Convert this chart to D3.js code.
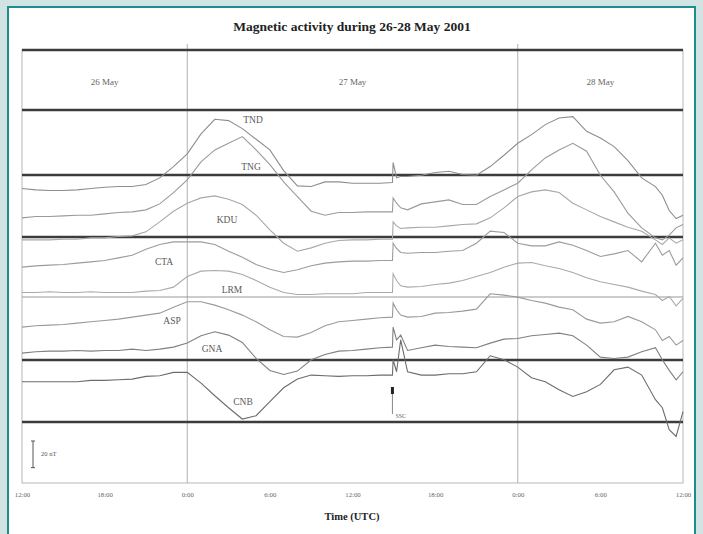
<!DOCTYPE html>
<html><head><meta charset="utf-8">
<script src="https://cdn.jsdelivr.net/npm/d3@7"></script>
<style>html,body{margin:0;padding:0;background:#d2e3e3;}svg{display:block}</style>
</head><body>
<svg id="c" width="703" height="534"></svg>
<script>
// ---------- DATA ----------
// hours since 26 May 12:00 UT
const hours = [0,1,2,3,4,5,6,7,8,9,10,11,12,13,14,15,16,17,18,19,20,21,22,23,24,25,26,26.9,26.95,27.2,27.5,28,29,30,31,32,33,34,35,36,37,38,39,40,41,42,43,44,45,46,46.5,47,47.5,48];
const stations = ["TND","TNG","KDU","CTA","LRM","ASP","GNA","CNB"];
// stacking offsets (nT)
const baselines = [221,199,184,162,143,117,97.5,76];
// H deviations (nT)
const TND = [0,-1,-1.5,-1.5,-1,0,1,1.5,1.5,3, 8,16.5,26,41,52,51,45,37,29,13.5, 2,1.5,5,5,4,4,4, 4.5,19.5,8,9, 9,10,12,13,10.5,10,16.5,25,34,40.5,48,53,54,43,38,31.5,21,8,1.5, -5,-16.5,-22.5,-20];
const TNG = [0,1,1,1.5,2,2,3,4,4.5,6, 10.5,19,28.5,42,51,56,61,51,40,27, 16,5,2,4,4,4.5,4.5, 4.5,15,11,7.5, 6,10.5,12,13.5,10,10,16,21,26,36,45,51,56,50,32,19.5,3.5,-7.5,-15, -16.5,-13,-7.5,-5];
const KDU = [-1.5,-1.5,-1.5,-1,-1,0,0,1,1.5,4.5, 12,20,26,30,31.5,29,25,17,6,-4, -10,-7.5,-4,-2,-1.5,-1.5,-1, -1,12,9,7, 7.5,8,8,9,10,10.5,15,22.5,31,34.5,36,34,26,21,16,12,8,5,-1.5, -5,0,-4,-1.5];
const CTA = [0,1,1.5,2,3,4,5,7,9,13.5, 17,19,19,19,17,12,7.5,2,-1.5,-4, -2,1,3,4,4.5,4.5,5, 5,18,14,11, 10.5,11,11,12,12.5,18,27,26,18,16,16,19,16.5,12.5,8,10,12.5,4,18, 9,12.5,1.5,7];
const LRM = [0,0,0.5,0,0,0.5,0,0,0,1, 1.5,4,12,16,16.5,16,13.5,9,4,0, -1.5,-1.5,-1,-1,-1,0,0, 0,14,9,5, 4,4.5,6,7,9,12,15,19,22,22.5,20,18,15,11,8,6,4,1,-1.5, -6,-3,-10,-4.5];
const ASP = [0,1,1.5,2,3,4,5,6,7.5,9, 10.5,15,19,19,16.5,13,9,4,-2,-7, -7.5,-4,1,4,5,6,7, 7.5,18,13,9, 7.5,8,10.5,11,12,13.5,25,24,22.5,20,18,15,13,6,3,4,8,4,-2, -10,-7,-13.5,-10];
const GNA = [0,1,1.5,1.5,2,1.5,2,2,3,2, 3,4.5,7.5,13,16,13.5,8,-4,-13,-16, -13.5,-5,-1,1.5,2,3,4, 4.5,19.5,10,13.5, 2,4,6,5,4.5,4,7.5,10.5,11,13,14,15,13,6,-3,-4,-3,1,4, -5,-13,-20,-14];
const CNB = [0,0,0,0,0,1,1,1.5,2,4, 4.5,7,7,-1,-10.5,-19.5,-28,-25.5,-15,-4.5, 2,5,4.5,4,4.5,4.5,5, 5,16.5,7.5,31.5, 7.5,5,5,6,6,7.5,19.5,16.5,11,3,0,-6,-11,-7.5,-2,9,11,5,-13.5, -19.5,-36,-41,-22.5];
const series = [TND,TNG,KDU,CTA,LRM,ASP,GNA,CNB];
const tickHours = [0,6,12,18,24,30,36,42,48];
const tickLabels = ["12:00","18:00","0:00","6:00","12:00","18:00","0:00","6:00","12:00"];
const dayNames = ["26 May","27 May","28 May"];
const dayBounds = [0,12,36,48];
const scaleBarNT = 20;
const sscHour = 26.9;

// ---------- LAYOUT ----------
const L = {left:22, right:683, top:50, bottom:483};
const thickY = [50,110,175,237,360,422];
const thinY = [297];
const labelPos = [[253,123],[251,170],[227,223],[164,265],[232,293],[172,324],[212,352],[243,405]];
const serif = "'Liberation Serif','DejaVu Serif',serif";

const svg = d3.select("#c");
svg.append("rect").attr("width",703).attr("height",534).attr("fill","#d2e3e3");
svg.append("rect").attr("x",8).attr("y",7).attr("width",687).attr("height",560)
  .attr("fill","#fff").attr("stroke","#1e8b8e").attr("stroke-width",2);

const x = d3.scaleLinear().domain([0,48]).range([L.left,L.right]);
const y = d3.scaleLinear().domain([0,325]).range([L.bottom,L.top]);

// frame
svg.append("rect").attr("x",L.left).attr("y",L.top).attr("width",L.right-L.left).attr("height",L.bottom-L.top)
  .attr("fill","none").attr("stroke","#b8b8b8").attr("stroke-width",1);
// day separators
svg.selectAll(".dsep").data(dayBounds.slice(1,3)).join("line")
  .attr("x1",d=>x(d)).attr("x2",d=>x(d)).attr("y1",44).attr("y2",L.bottom)
  .attr("stroke","#b0b0b0").attr("stroke-width",1);
// horizontal guide lines
svg.selectAll(".thin").data(thinY).join("line")
  .attr("x1",L.left).attr("x2",L.right).attr("y1",d=>d).attr("y2",d=>d)
  .attr("stroke","#999").attr("stroke-width",1);
svg.selectAll(".thick").data(thickY).join("line")
  .attr("x1",L.left).attr("x2",L.right).attr("y1",d=>d).attr("y2",d=>d)
  .attr("stroke","#3c3c3c").attr("stroke-width",2.4);

// title
svg.append("text").attr("x",352).attr("y",31).attr("text-anchor","middle")
  .attr("font-family",serif).attr("font-weight","bold").attr("font-size",13.5).attr("fill","#222")
  .text("Magnetic activity during 26-28 May 2001");

// day labels
svg.selectAll(".day").data(dayNames).join("text")
  .attr("x",(d,i)=>(x(dayBounds[i])+x(dayBounds[i+1]))/2).attr("y",85)
  .attr("text-anchor","middle").attr("font-family",serif).attr("font-size",9).attr("fill","#666")
  .text(d=>d);

// curves
const line = d3.line().x((d,i)=>x(hours[i])).y(d=>y(d));
const strokes = ["#8e8e8e","#9a9a9a","#a8a8a8","#9c9c9c","#aaaaaa","#9a9a9a","#808080","#6c6c6c"];
series.forEach((vals,k)=>{
  svg.append("path").datum(vals.map(v=>baselines[k]+v))
    .attr("d",line).attr("fill","none").attr("stroke",strokes[k]).attr("stroke-width",1.1);
});

// station labels
svg.selectAll(".stn").data(stations).join("text")
  .attr("x",(d,i)=>labelPos[i][0]).attr("y",(d,i)=>labelPos[i][1])
  .attr("text-anchor","middle").attr("font-family",serif).attr("font-size",9.5).attr("fill","#5a5a5a")
  .text(d=>d);

// x axis
const ax = svg.append("g").attr("transform",`translate(0,${L.bottom})`)
  .call(d3.axisBottom(x).tickValues(tickHours).tickFormat((d,i)=>tickLabels[i]).tickSize(0).tickPadding(9));
ax.select(".domain").remove();
ax.selectAll("text").attr("font-family",serif).attr("font-size",6.8).attr("fill","#666");
svg.append("text").attr("x",352).attr("y",520).attr("text-anchor","middle")
  .attr("font-family",serif).attr("font-weight","bold").attr("font-size",10.5).attr("fill","#222")
  .text("Time (UTC)");

// scale bar
const sbTop = 441, sbLen = y(0)-y(scaleBarNT);
const sb = svg.append("g").attr("stroke","#555").attr("stroke-width",1);
sb.append("line").attr("x1",33).attr("x2",33).attr("y1",sbTop).attr("y2",sbTop+sbLen);
sb.append("line").attr("x1",31).attr("x2",35).attr("y1",sbTop).attr("y2",sbTop);
sb.append("line").attr("x1",31).attr("x2",35).attr("y1",sbTop+sbLen).attr("y2",sbTop+sbLen);
svg.append("text").attr("x",41).attr("y",sbTop+sbLen/2+2).attr("font-family",serif)
  .attr("font-size",6.5).attr("fill","#555").text(scaleBarNT+" nT");

// SSC marker
const sx = x(sscHour);
svg.append("rect").attr("x",sx-1.5).attr("y",387).attr("width",3).attr("height",7).attr("fill","#222");
svg.append("line").attr("x1",sx).attr("x2",sx).attr("y1",394).attr("y2",414).attr("stroke","#888");
svg.append("text").attr("x",sx+3).attr("y",418).attr("font-family",serif).attr("font-size",6).attr("fill","#666").text("SSC");
</script>
</body></html>
